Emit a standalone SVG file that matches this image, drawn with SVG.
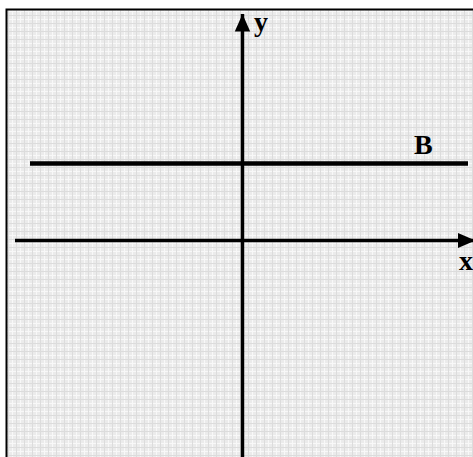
<svg xmlns="http://www.w3.org/2000/svg" width="473" height="457" viewBox="0 0 473 457">
<style>
.axis{stroke:#000;stroke-width:3.5;fill:none}
.lbl{font-family:"Liberation Serif",serif;font-weight:bold;fill:#000}
</style>
<defs>
<pattern id="grid" width="8" height="8" patternUnits="userSpaceOnUse">
<rect width="8" height="8" fill="#ebebeb"/>
<rect x="0" y="3" width="8" height="1" fill="#f8f8f8"/>
<rect x="4" y="0" width="1" height="8" fill="#f8f8f8"/>
<rect x="0" y="7" width="8" height="1" fill="#dcdcdc"/>
<rect x="0" y="0" width="1" height="8" fill="#dcdcdc"/>
</pattern>
<marker id="arr" viewBox="0 0 10 10" refX="10" refY="5" markerWidth="5" markerHeight="5" orient="auto" markerUnits="strokeWidth">
<path d="M0,0.6 L10,5 L0,9.4 z" fill="#000"/>
</marker>
</defs>
<rect width="473" height="457" fill="#fff"/>
<g id="frame">
<rect x="6.5" y="9.5" width="480" height="460" fill="url(#grid)" stroke="#000" stroke-width="2"/>
</g>
<g id="connectors">
<line id="x-axis" class="axis" x1="15" y1="240.5" x2="475" y2="240.5" marker-end="url(#arr)"/>
<line id="y-axis" class="axis" x1="242.5" y1="457" x2="242.5" y2="14" marker-end="url(#arr)"/>
<line id="line-B" x1="30" y1="163.5" x2="468" y2="163.5" stroke="#000" stroke-width="4.5"/>
</g>
<g id="label-y"><text class="lbl" x="254" y="31" font-size="28">y</text></g>
<g id="label-B"><text class="lbl" x="414" y="154" font-size="28">B</text></g>
<g id="label-x"><text class="lbl" x="459" y="270" font-size="28">x</text></g>
</svg>
